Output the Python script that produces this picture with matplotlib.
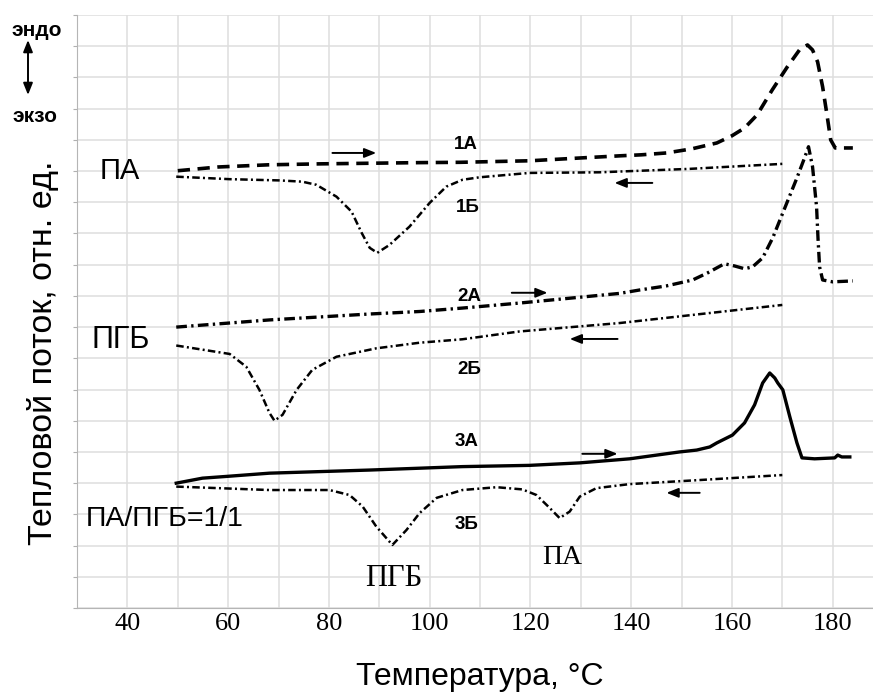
import numpy as np
import matplotlib.pyplot as plt

plt.rcParams['font.family'] = ['Liberation Sans', 'DejaVu Sans']

# --- curves (temperature, relative heat flow) ---
t_1a = [50, 58, 68, 78, 88, 98, 106, 120, 130, 138, 142, 147, 152, 157, 160,
        162.5, 165, 168, 171, 173.4, 175, 176, 177, 178, 178.8, 179.6, 180.5, 184]
q_1a = [14.01, 14.13, 14.20, 14.23, 14.25, 14.27, 14.28, 14.33, 14.42, 14.49, 14.52,
        14.58, 14.71, 14.90, 15.13, 15.38, 15.80, 16.60, 17.34, 17.88, 18.04, 17.88,
        17.50, 16.70, 15.87, 15.00, 14.74, 14.74]

t_1b = [49.7, 60.3, 70.2, 74.7, 77.5, 81.5, 84.5, 86.5, 88.1, 89.6, 92.0, 96.0, 100.0,
        103.3, 106.5, 109.9, 119.8, 133.7, 151.6, 170]
q_1b = [13.82, 13.74, 13.70, 13.66, 13.56, 13.18, 12.70, 12.02, 11.54, 11.38, 11.63,
        12.22, 12.98, 13.50, 13.72, 13.80, 13.94, 13.96, 14.07, 14.23]

t_2a = [49.7, 68.2, 88.1, 98.0, 106.5, 117.8, 137.7, 141.7, 147.0, 152.2, 155.2, 158.5,
        160.5, 162.5, 164.1, 166.1, 168.1, 170.5, 172.9, 174.5, 175.2, 176.0, 176.8,
        177.1, 177.4, 178.0, 180, 184]
q_2a = [9.00, 9.23, 9.42, 9.50, 9.61, 9.77, 10.08, 10.19, 10.32, 10.51, 10.74, 11.03,
        10.96, 10.87, 10.93, 11.22, 11.86, 12.82, 13.78, 14.46, 14.78, 14.14, 12.85,
        11.79, 10.93, 10.51, 10.45, 10.48]

t_2b = [49.7, 60.3, 63.6, 66.2, 68.2, 69.2, 70.8, 73.6, 76.7, 81.5, 89.4, 98.0, 106.5,
        117.8, 137.7, 170]
q_2b = [8.41, 8.14, 7.73, 6.99, 6.25, 6.00, 6.19, 6.99, 7.63, 8.05, 8.32, 8.50, 8.61,
        8.86, 9.13, 9.71]

t_3a = [49.7, 54.9, 60, 68.2, 88.1, 106.5, 119.8, 129.8, 139.7, 149.6, 153, 155.6, 157,
        160.1, 162.5, 164.5, 166.1, 167.5, 168.5, 169.1, 170.1, 171.5, 172.9, 173.9,
        176.4, 180.4, 181, 181.8, 183.4]
q_3a = [4.00, 4.16, 4.22, 4.32, 4.42, 4.53, 4.57, 4.65, 4.78, 5.00, 5.06, 5.16, 5.29,
        5.54, 5.93, 6.51, 7.21, 7.53, 7.37, 7.21, 6.99, 6.12, 5.29, 4.81,
        4.78, 4.81, 4.90, 4.84, 4.84]

t_3b = [49.7, 68.2, 80.1, 84.1, 86.7, 89.4, 92.6, 95.4, 98.0, 101.4, 106.5, 113.3,
        118.4, 121.2, 123.8, 125.8, 127.8, 129.8, 133.1, 139.7, 153.6, 170]
q_3b = [3.89, 3.78, 3.78, 3.62, 3.25, 2.61, 2.02, 2.50, 3.04, 3.53, 3.78, 3.87,
        3.80, 3.62, 3.21, 2.88, 3.09, 3.57, 3.84, 3.97, 4.10, 4.26]

x_ticks = [40, 60, 80, 100, 120, 140, 160, 180]

W, H = 873, 692
fig = plt.figure(figsize=(W / 100, H / 100), dpi=100)
ax = fig.add_axes([77 / W, 1 - 608 / H, 796 / W, 593 / H])

heavy = 2.4
thin = 1.8
dashdot = (3, 1.3, 0.8, 1.3)
ax.plot(t_1a, q_1a, color='k', lw=2.6, dashes=(3.4, 2.1))
ax.plot(t_1b, q_1b, color='k', lw=thin, dashes=dashdot)
ax.plot(t_2a, q_2a, color='k', lw=heavy, dashes=(3.2, 1.3, 0.7, 1.3))
ax.plot(t_2b, q_2b, color='k', lw=thin, dashes=dashdot)
ax.plot(t_3a, q_3a, color='k', lw=heavy)
ax.plot(t_3b, q_3b, color='k', lw=thin, dashes=dashdot)

# heating / cooling direction arrows
arr = dict(arrowstyle='-|>,head_length=0.5,head_width=0.2', color='k', lw=1.4,
           mutation_scale=14, shrinkA=0, shrinkB=0)
for (x0, x1, y) in [(80.7, 89.4, 14.58), (144.2, 136.7, 13.62),
                    (116.3, 123.4, 10.10), (137.3, 127.8, 8.62),
                    (130.3, 137.3, 4.94), (153.6, 147.0, 3.69)]:
    ax.annotate('', xy=(x1, y), xytext=(x0, y), arrowprops=arr)

# curve labels
small = dict(fontsize=13.5, fontweight='bold', ha='center', va='center')
ax.text(107.1, 14.84, '1А', **small)
ax.text(107.5, 12.82, '1Б', **small)
ax.text(107.9, 9.97, '2А', **small)
ax.text(107.9, 7.63, '2Б', **small)
ax.text(107.3, 5.35, '3А', **small)
ax.text(107.3, 2.66, '3Б', **small)

ax.text(38.4, 14.0, 'ПА', fontsize=21, ha='center', va='center')
ax.text(38.6, 8.59, 'ПГБ', fontsize=22, ha='center', va='center')
ax.text(47.5, 2.85, 'ПА/ПГБ=1/1', fontsize=20.5, ha='center', va='center')
ax.text(92.8, 0.96, 'ПГБ', fontsize=22, family='Liberation Serif', ha='center', va='center')
ax.text(126.4, 1.63, 'ПА', fontsize=20, family='Liberation Serif', ha='center', va='center')

ax.set_xlim(30, 188)
ax.set_ylim(0, 19)
grid_x = np.arange(30, 190, 10)
ax.set_xticks(grid_x)
ax.set_xticklabels([str(t) if t in x_ticks else '' for t in grid_x],
                   family='Liberation Serif', fontsize=19)
ax.set_yticks(np.arange(0, 20, 1))
ax.set_yticklabels([])
ax.tick_params(axis='x', length=0, pad=3.5)
ax.tick_params(axis='y', length=3, color='#b0b0b0')
ax.grid(True, color='#dedede', lw=1.1)
ax.set_axisbelow(True)
for s in ['top', 'right']:
    ax.spines[s].set_visible(False)
for s in ['left', 'bottom']:
    ax.spines[s].set_color('#b5b5b5')

fig.text(480 / W, 1 - 685 / H, 'Температура, °C', fontsize=23, ha='center', va='baseline')
fig.text(51.6 / W, 1 - 353 / H, 'Тепловой поток, отн. ед.', fontsize=24.5, rotation=90,
         rotation_mode='anchor', ha='center', va='baseline')

# endo / exo marker
fig.text(37 / W, 1 - 31 / H, 'эндо', fontsize=15, fontweight='bold', ha='center', va='center')
fig.text(35 / W, 1 - 117 / H, 'экзо', fontsize=15, fontweight='bold', ha='center', va='center')
ax.annotate('', xy=(28 / W, 1 - 40 / H), xytext=(28 / W, 1 - 95 / H),
            xycoords='figure fraction', textcoords='figure fraction',
            arrowprops=dict(arrowstyle='<|-|>,head_length=0.5,head_width=0.2', color='k',
                            lw=1.4, mutation_scale=14, shrinkA=0, shrinkB=0))

fig.savefig('out.png', dpi=100)
